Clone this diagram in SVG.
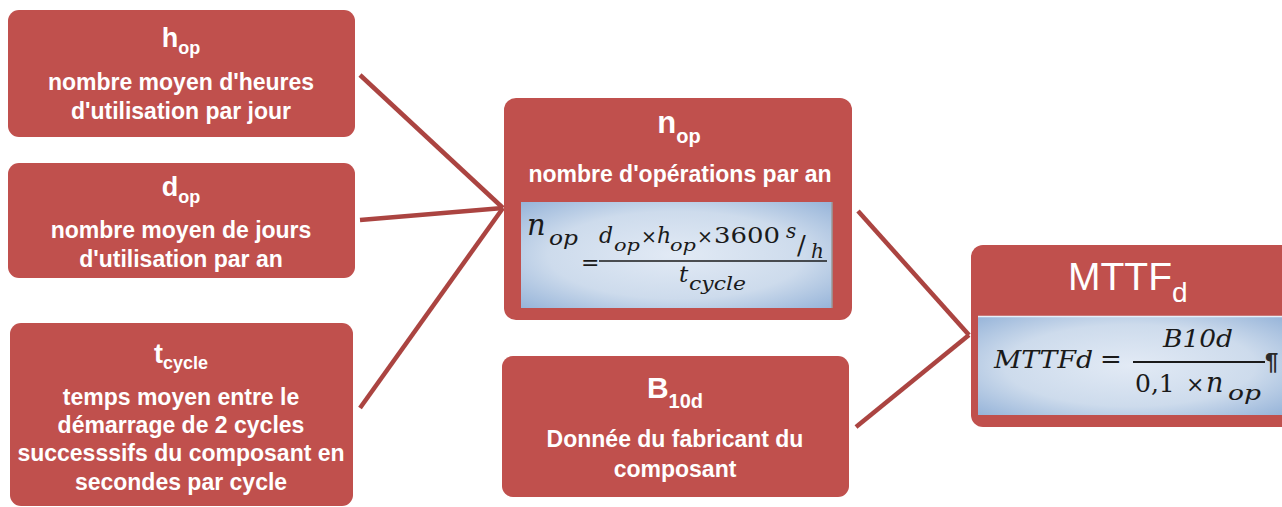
<svg xmlns="http://www.w3.org/2000/svg" width="1282" height="507" viewBox="0 0 1282 507">
  <defs>
    <radialGradient id="fg" cx="50%" cy="50%" r="75%">
      <stop offset="0" stop-color="#e2eaf5"/>
      <stop offset="0.55" stop-color="#cddbec"/>
      <stop offset="1" stop-color="#8eaed6"/>
    </radialGradient>
    <style>
      .box{fill:#c0504d;}
      .t{font-family:"Liberation Sans",Arial,sans-serif;font-weight:bold;fill:#ffffff;font-size:23px;text-anchor:middle;}
      .conn{stroke:#ab4441;stroke-width:4.5;fill:none;stroke-linecap:butt;}
      .m{font-family:"DejaVu Serif","Liberation Serif",serif;font-style:italic;fill:#1a1a1a;}
      .mr{font-family:"DejaVu Serif","Liberation Serif",serif;fill:#1a1a1a;}
      .inset{fill:url(#fg);}
    </style>
  </defs>
  <rect width="1282" height="507" fill="#ffffff"/>

  <g id="connectors">
    <line class="conn" x1="360" y1="75" x2="503" y2="208"/>
    <line class="conn" x1="360" y1="220" x2="503" y2="208"/>
    <line class="conn" x1="360" y1="408" x2="503" y2="208"/>
    <line class="conn" x1="858" y1="211" x2="969" y2="335"/>
    <line class="conn" x1="856" y1="427" x2="969" y2="335"/>
  </g>

  <g id="node-hop">
    <rect class="box" x="8" y="10" width="347" height="127" rx="11"/>
    <text class="t" x="181" y="47"><tspan font-size="27">h</tspan><tspan font-size="18" dy="7">op</tspan></text>
    <text class="t" x="181" y="90">nombre moyen d'heures</text>
    <text class="t" x="181" y="119">d'utilisation par jour</text>
  </g>

  <g id="node-dop">
    <rect class="box" x="8" y="163" width="347" height="115" rx="11"/>
    <text class="t" x="181" y="196"><tspan font-size="27">d</tspan><tspan font-size="18" dy="7">op</tspan></text>
    <text class="t" x="181" y="238">nombre moyen de jours</text>
    <text class="t" x="181" y="267">d'utilisation par an</text>
  </g>

  <g id="node-tcycle">
    <rect class="box" x="10" y="323" width="343" height="183" rx="11"/>
    <text class="t" x="181" y="363"><tspan font-size="27">t</tspan><tspan font-size="18" dy="6">cycle</tspan></text>
    <text class="t" x="181" y="405">temps moyen entre le</text>
    <text class="t" x="181" y="433">démarrage de 2 cycles</text>
    <text class="t" x="181" y="461">successsifs du composant en</text>
    <text class="t" x="181" y="490">secondes par cycle</text>
  </g>

  <g id="node-nop">
    <rect class="box" x="504" y="98" width="348" height="222" rx="12"/>
    <text class="t" x="679" y="133"><tspan font-size="31">n</tspan><tspan font-size="20" dy="10">op</tspan></text>
    <text class="t" x="680" y="182">nombre d'opérations par an</text>
    <rect class="inset" x="521" y="202" width="311" height="106"/>
    <line x1="832" y1="202" x2="832" y2="308" stroke="#9a9a9a" stroke-width="1.5"/>
    <text class="m" x="527" y="235" font-size="29">n</text>
    <text class="m" x="549" y="245" font-size="20" textLength="29" lengthAdjust="spacingAndGlyphs">op</text>
    <text class="mr" x="581" y="270" font-size="22">=</text>
    <line x1="599" y1="261" x2="827" y2="261" stroke="#1a1a1a" stroke-width="1.6"/>
    <text class="m" x="599" y="243" font-size="22">d</text>
    <text class="m" x="614" y="251" font-size="17" textLength="26" lengthAdjust="spacingAndGlyphs">op</text>
    <text class="mr" x="641" y="243" font-size="19">×</text>
    <text class="m" x="657" y="243" font-size="22">h</text>
    <text class="m" x="670" y="251" font-size="17" textLength="26" lengthAdjust="spacingAndGlyphs">op</text>
    <text class="mr" x="697" y="243" font-size="19">×</text>
    <text class="mr" x="714" y="243" font-size="22" textLength="66" lengthAdjust="spacingAndGlyphs">3600</text>
    <text class="m" x="786" y="238" font-size="20">s</text>
    <text class="mr" x="797" y="254" font-size="26">/</text>
    <text class="m" x="811" y="258" font-size="20">h</text>
    <text class="m" x="679" y="282" font-size="23">t</text>
    <text class="m" x="689" y="290" font-size="19" textLength="57" lengthAdjust="spacingAndGlyphs">cycle</text>
  </g>

  <g id="node-b10d">
    <rect class="box" x="502" y="356" width="347" height="141" rx="11"/>
    <text class="t" x="675" y="398"><tspan font-size="30">B</tspan><tspan font-size="20" dy="10">10d</tspan></text>
    <text class="t" x="675" y="447">Donnée du fabricant du</text>
    <text class="t" x="675" y="477">composant</text>
  </g>

  <g id="node-mttfd">
    <rect class="box" x="971" y="245" width="330" height="182" rx="12"/>
    <text x="1068" y="290" font-family="Liberation Sans,Arial,sans-serif" font-size="39" fill="#ffffff">MTTF<tspan font-size="28" dy="12">d</tspan></text>
    <rect class="inset" x="978" y="316" width="304" height="99"/>
    <line x1="978" y1="316.5" x2="1282" y2="316.5" stroke="#e8eef7" stroke-width="1.5"/>
    <text class="m" x="994" y="368" font-size="25" textLength="99" lengthAdjust="spacingAndGlyphs">MTTFd</text>
    <text class="mr" x="1100" y="368" font-size="26">=</text>
    <line x1="1133" y1="362" x2="1265" y2="362" stroke="#1a1a1a" stroke-width="1.8"/>
    <text class="m" x="1163" y="347" font-size="25" textLength="70" lengthAdjust="spacingAndGlyphs">B10d</text>
    <text class="mr" x="1135" y="392" font-size="25">0,1</text>
    <text class="mr" x="1186" y="392" font-size="22">×</text>
    <text class="m" x="1206" y="392" font-size="27">n</text>
    <text class="m" x="1228" y="400" font-size="21" textLength="33" lengthAdjust="spacingAndGlyphs">op</text>
    <text x="1265" y="370" font-family="Liberation Sans,Arial,sans-serif" font-weight="bold" font-size="24" fill="#2a2a2a">¶</text>
  </g>
</svg>
